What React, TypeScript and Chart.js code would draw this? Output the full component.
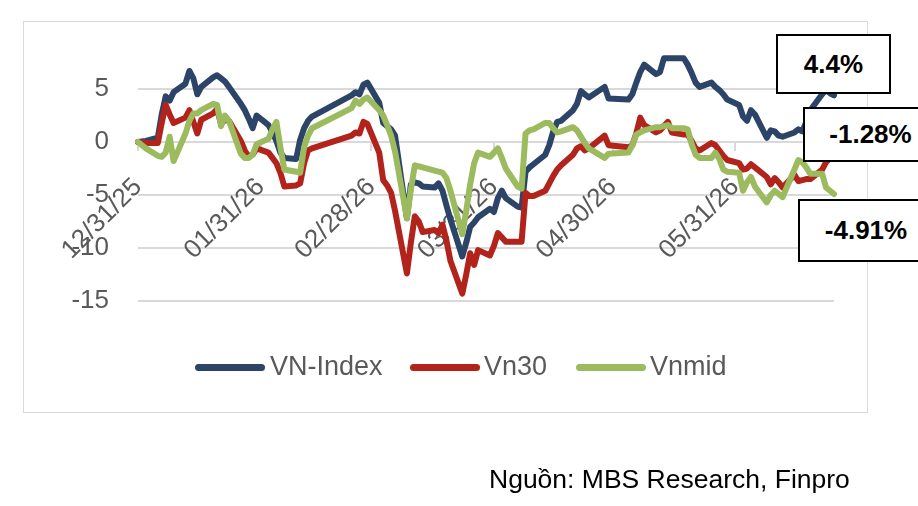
import React, { useEffect, useRef } from "react";
import { Chart, registerables } from "chart.js";

Chart.register(...registerables);

// Trading days, as calendar days after 31 Dec 2025 (Tet and 27/4, 30/4, 1/5 closed)
const dayOffsets = [
  0, 2, 5, 6, 7, 8, 9, 12, 13, 14, 15, 16, 19, 20, 21, 22, 23, 26, 27, 28, 29, 30,
  33, 34, 35, 36, 37, 40, 41, 42, 43, 44, 54, 55, 56, 57, 58, 61, 62, 63, 64, 65,
  68, 69, 70, 71, 72, 75, 76, 77, 78, 79, 82, 83, 84, 85, 86, 89, 90, 91, 92, 93,
  96, 97, 98, 99, 100, 103, 104, 105, 106, 107, 110, 111, 112, 113, 114, 118, 119,
  124, 125, 126, 127, 128, 131, 132, 133, 134, 135, 138, 139, 140, 141, 142, 145,
  146, 147, 148, 149, 152, 153, 154, 155, 156, 159, 160, 161, 162, 163, 166, 167,
  168, 169, 170, 173, 174, 175, 176,
];

// Cumulative change since 31/12/2025, %
const vnIndex = [
  0, 0.1, 0.4, 2.6, 4.3, 3.9, 4.7, 5.5, 6.7, 6.0, 4.5, 5.2, 6.1, 6.3, 6.0, 5.7, 5.2,
  3.6, 3.0, 2.2, 1.3, 2.5, 1.6, 0.9, 0.1, -1.0, -1.5, -1.6, 0.2, 1.3, 2.0, 2.4,
  4.4, 4.7, 4.5, 5.4, 5.6, 3.7, 1.8, 1.5, 1.2, 0.6, -7.2, -4.0, -3.8, -3.9, -4.2,
  -4.3, -3.9, -4.6, -6.0, -7.3, -10.8, -9.5, -8.0, -7.6, -7.1, -6.3, -6.6, -5.3,
  -4.6, -5.3, -6.1, -6.2, -2.8, -2.4, -2.1, -1.2, -0.3, 1.0, 1.9, 2.0, 3.0, 3.6,
  4.8, 4.5, 4.2, 5.2, 4.1, 4.0, 4.5, 5.6, 6.6, 7.3, 6.4, 6.6, 7.9, 7.9, 7.9, 7.9,
  7.3, 6.5, 5.6, 5.2, 5.6, 5.2, 4.9, 4.5, 4.0, 3.5, 2.4, 2.0, 3.0, 2.6, 0.4, 1.1,
  1.0, 0.6, 0.5, 0.9, 1.2, 1.0, 1.9, 3.0, 4.5, 4.9, 4.6, 4.4,
];

const vn30 = [
  0, -0.1, -0.1, 1.8, 3.5, 2.6, 1.8, 2.3, 3.0, 1.9, 0.8, 2.1, 2.7, 3.1, 1.7, 2.1, 2.0,
  0.1, -0.8, -1.4, -1.2, -0.6, -1.0, -1.5, -2.0, -2.9, -4.2, -4.1, -3.9, -2.0, -0.8,
  -0.6, 0.6, 0.9, 0.8, 1.9, 1.7, -1.0, -3.6, -4.1, -4.8, -6.5, -12.4, -9.5, -7.0,
  -7.5, -8.5, -8.3, -8.6, -7.8, -9.3, -11.2, -14.3, -12.5, -10.5, -11.6, -10.2,
  -10.7, -9.8, -8.6, -9.0, -9.4, -9.4, -9.4, -4.8, -5.1, -5.1, -4.6, -3.9, -3.2,
  -2.6, -2.2, -1.2, -0.6, -0.4, -0.8, -0.6, 0.6, -0.3, -0.5, -0.3, 0.8, 2.3, 1.6,
  0.9, 1.1, 1.5, 1.9, 0.9, 0.7, 0.7, 0.1, -0.6, -0.8, -0.1, -0.3, -0.8, -1.3, -1.7,
  -2.0, -2.6, -2.5, -2.1, -2.4, -3.3, -4.0, -3.4, -3.8, -4.3, -3.1, -3.7, -3.6,
  -3.5, -3.5, -2.6, -1.9, -1.5, -1.28,
];

const vnmid = [
  0, -0.6, -1.3, -1.4, -1.0, 0.5, -1.8, 0.8, 2.0, 2.7, 2.7, 3.0, 3.6, 3.5, 1.5, 2.5,
  2.0, -1.1, -1.5, -1.5, -1.2, -0.2, 0.3, 1.2, 1.9, -0.5, -2.6, -2.8, -2.9, -0.5,
  0.6, 1.3, 3.2, 3.9, 3.6, 4.0, 4.2, 3.0, 2.5, 1.6, 0.6, -0.9, -7.2, -4.5, -2.2,
  -2.3, -2.4, -2.7, -2.8, -2.9, -3.4, -4.6, -8.7, -6.5, -4.0, -2.0, -1.0, -1.4,
  -1.0, -0.6, -1.5, -2.5, -4.2, -4.4, 0.8, 1.1, 1.2, 1.8, 1.8, 1.3, 0.9, 1.0, 1.4,
  1.1, 0.5, -0.1, -0.6, -1.5, -1.1, -1.0, -0.3, 0.7, 0.9, 1.1, 1.4, 1.4, 1.5, 1.6,
  1.3, 1.3, 1.2, -0.2, -1.2, -1.5, -1.5, -1.0, -1.6, -2.6, -2.8, -2.9, -4.6, -3.8,
  -3.3, -4.2, -5.7, -5.0, -4.6, -4.9, -5.2, -2.6, -1.7, -1.9, -2.4, -3.0, -3.0,
  -4.3, -4.6, -4.91,
];

const seriesNames = ["VN-Index", "Vn30", "Vnmid"];
const seriesColors = ["#2C4468", "#B2241B", "#9CBB5E"];

// Month-end ticks on the date axis
const tickDays = [0, 31, 59, 90, 120, 151];
const tickLabels = ["12/31/25", "01/31/26", "02/28/26", "03/31/26", "04/30/26", "05/31/26"];
const yTicks = [-15, -10, -5, 0, 5];

// Call-out boxes with each series' latest value
const calloutBoxes = [
  { left: 776, top: 34, width: 115, height: 60 },
  { left: 803, top: 107, width: 135, height: 55 },
  { left: 798, top: 199, width: 136, height: 63 },
];
const calloutSeries = [vnIndex, vn30, vnmid];

const FONT = "'Liberation Sans', Arial, Helvetica, sans-serif";
const GREY_TEXT = "#595959";
const GRID = "#d9d9d9";

const legendItems = [
  { swatch: 195, text: 270 },
  { swatch: 410, text: 484 },
  { swatch: 576, text: 650 },
];

export default function App() {
  const canvasRef = useRef<HTMLCanvasElement | null>(null);

  useEffect(() => {
    const canvas = canvasRef.current;
    if (!canvas) return;
    const series = [vnIndex, vn30, vnmid];
    const chart = new Chart(canvas, {
      type: "line",
      data: {
        datasets: series.map((values, i) => ({
          label: seriesNames[i],
          data: dayOffsets.map((d, k) => ({ x: d, y: values[k] })),
          borderColor: seriesColors[i],
          backgroundColor: seriesColors[i],
          borderWidth: 6,
          pointRadius: 0,
          borderJoinStyle: "round",
          borderCapStyle: "round",
          tension: 0,
          order: 2 - i,
          clip: false,
        })),
      },
      options: {
        animation: false,
        responsive: false,
        maintainAspectRatio: false,
        events: [],
        layout: { padding: { left: 38, right: 84, top: 36, bottom: 205 } },
        plugins: { legend: { display: false }, tooltip: { enabled: false } },
        scales: {
          x: {
            type: "linear",
            min: 0,
            max: 176,
            position: { y: 0 } as any,
            z: 1,
            afterBuildTicks: (s: any) => {
              s.ticks = tickDays.map((v) => ({ value: v }));
            },
            afterFit: (s: any) => {
              s.paddingLeft = 0;
              s.paddingRight = 0;
              s.paddingTop = 0;
              s.paddingBottom = 0;
            },
            ticks: {
              autoSkip: false,
              maxRotation: 45,
              minRotation: 45,
              padding: 21,
              color: GREY_TEXT,
              font: { family: FONT, size: 26 },
              callback: (v: any) => {
                const idx = tickDays.indexOf(Number(v));
                return idx >= 0 ? tickLabels[idx] : "";
              },
            },
            grid: {
              drawOnChartArea: false,
              drawTicks: true,
              tickLength: 9,
              color: GRID,
              lineWidth: 2,
            },
            border: { display: false },
          },
          y: {
            type: "linear",
            min: -15,
            max: 10,
            afterBuildTicks: (s: any) => {
              s.ticks = yTicks.map((v) => ({ value: v }));
            },
            afterFit: (s: any) => {
              s.width = 100;
              s.paddingTop = 0;
              s.paddingBottom = 0;
            },
            ticks: {
              padding: 29,
              color: GREY_TEXT,
              font: { family: FONT, size: 26 },
            },
            grid: { color: GRID, lineWidth: 2, drawTicks: false },
            border: { display: false },
          },
        },
      },
    } as any);
    return () => chart.destroy();
  }, []);

  return (
    <div
      style={{
        position: "fixed",
        left: 0,
        top: 0,
        width: 918,
        height: 506,
        background: "#ffffff",
        overflow: "hidden",
      }}
    >
      <div
        style={{
          position: "absolute",
          left: 23,
          top: 21,
          width: 845,
          height: 392,
          border: `1px solid ${GRID}`,
          boxSizing: "border-box",
        }}
      />
      <canvas
        ref={canvasRef}
        width={918}
        height={506}
        style={{ position: "absolute", left: 0, top: 0, display: "block" }}
      />
      {legendItems.map((item, i) => (
        <React.Fragment key={seriesNames[i]}>
          <div
            style={{
              position: "absolute",
              left: item.swatch,
              top: 364,
              width: 70,
              height: 7,
              borderRadius: 4,
              background: seriesColors[i],
            }}
          />
          <div
            style={{
              position: "absolute",
              left: item.text,
              top: 351,
              lineHeight: "30px",
              fontFamily: FONT,
              fontSize: 27,
              color: GREY_TEXT,
              whiteSpace: "nowrap",
            }}
          >
            {seriesNames[i]}
          </div>
        </React.Fragment>
      ))}
      {calloutBoxes.map((b, i) => {
        const values = calloutSeries[i];
        return (
          <div
            key={i}
            style={{
              position: "absolute",
              left: b.left,
              top: b.top,
              width: b.width,
              height: b.height,
              boxSizing: "border-box",
              border: "2px solid #000",
              background: "#fff",
              display: "flex",
              alignItems: "center",
              justifyContent: "center",
              fontFamily: FONT,
              fontWeight: 700,
              fontSize: 26,
              color: "#000",
              whiteSpace: "nowrap",
            }}
          >
            {`${values[values.length - 1]}%`}
          </div>
        );
      })}
      <div
        style={{
          position: "absolute",
          left: 489,
          top: 464,
          lineHeight: "30px",
          fontFamily: FONT,
          fontSize: 26.5,
          color: "#000",
          whiteSpace: "nowrap",
        }}
      >
        Nguồn: MBS Research, Finpro
      </div>
    </div>
  );
}
